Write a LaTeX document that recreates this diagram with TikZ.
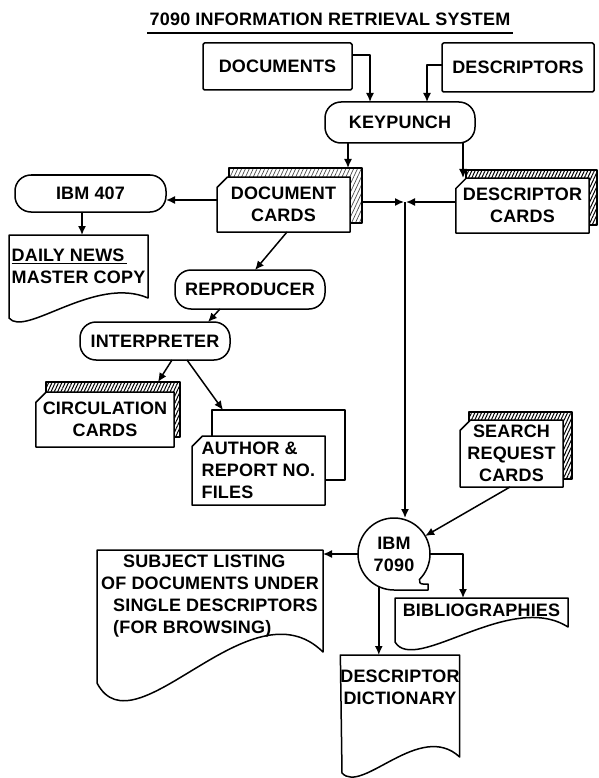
\documentclass[tikz,border=0pt]{standalone}
\usepackage{fontspec}
\setmainfont{Liberation Sans}[LetterSpace=1.0]
\usetikzlibrary{arrows.meta,shapes.misc,patterns.meta,calc}
\begin{document}
\begin{tikzpicture}[x=1pt,y=-1pt, line width=1.5pt, line join=round,
  every node/.style={font=\fontsize{18}{22}\selectfont\bfseries, inner sep=0pt, outer sep=0pt},
  arr/.style={-{Latex[length=9pt,width=8pt]}},
  plainbox/.style={draw, rectangle, rounded corners=1.5pt},
  stadium/.style={draw, rectangle, rounded corners=16pt},
  cardback/.style={draw, chamfered rectangle, chamfered rectangle corners=north west, chamfered rectangle xsep=7pt},
  cardfront/.style={draw, fill=white, chamfered rectangle, chamfered rectangle corners=north west, chamfered rectangle xsep=7pt, align=center},
  hatch/.style={pattern={Lines[angle=65,distance=3pt,line width=1pt]}, pattern color=black},
  lighthatch/.style={pattern={Lines[angle=65,distance=3.5pt,line width=0.7pt]}, pattern color=black!70},
  paper/.style={rectangle, align=left}
]
\useasboundingbox (0,0) rectangle (598,778);
\fill[white] (0,0) rectangle (598,778);

% title
\node (title) at (330,19) {7090 INFORMATION RETRIEVAL SYSTEM};
\draw (147,33) -- (513,33);

% top row
\node[plainbox, minimum width=149, minimum height=47] (docs) at (277.5,66.5) {DOCUMENTS};
\node[plainbox, minimum width=152, minimum height=49] (descs) at (518,67.5) {DESCRIPTORS};
\node[stadium, minimum width=150, minimum height=41] (keypunch) at (400,122.5) {KEYPUNCH};

% cards
\node[cardback, lighthatch, minimum width=133, minimum height=55] (dcb) at (295.5,195.5) {};
\node[cardfront, minimum width=133, minimum height=55] (dcf) at (283.5,204.5) {DOCUMENT\\CARDS};
\node[cardback, hatch, minimum width=131, minimum height=55] (descb) at (531.5,197.5) {};
\node[cardfront, minimum width=131, minimum height=55] (descf) at (522.5,205.5) {DESCRIPTOR\\CARDS};

% left branch
\node[stadium, minimum width=151, minimum height=37] (ibm407) at (90.5,193.5) {IBM 407};
\node[paper, minimum width=139, minimum height=63] (daily) at (78.5,266.5) {\underline{DAILY NEWS\,}\\MASTER COPY};
\draw (daily.north west) -- (daily.north east) -- (daily.south east)
  .. controls (95,275) and (25,338) .. (9,318) -- cycle;

\node[stadium, minimum width=150, minimum height=39] (repro) at (250,289.5) {REPRODUCER};
\node[stadium, minimum width=150, minimum height=38] (interp) at (155,341) {INTERPRETER};

\node[cardback, hatch, minimum width=134, minimum height=55] (circb) at (113,409.5) {};
\node[cardfront, minimum width=134, minimum height=55] (circf) at (105,419.5) {CIRCULATION\\CARDS};

\node[cardback, minimum width=133, minimum height=70] (authb) at (278.5,445) {};
\node[cardfront, align=left, minimum width=133, minimum height=69] (authf) at (258.5,470.5) {AUTHOR \&\\REPORT NO.\\FILES\hspace*{62pt}};

\node[cardback, hatch, minimum width=103, minimum height=67] (searchb) at (520.5,445.5) {};
\node[cardfront, minimum width=103, minimum height=67] (searchf) at (511.5,453.5) {SEARCH\\REQUEST\\CARDS};

% IBM 7090
\node[circle, minimum size=72, align=center] (ibm) at (394,554) {IBM\\7090};
\draw (ibm.-45) arc[start angle=45, end angle=-270, radius=36] -- ++(34,0) -- ++(0,-6) -- ++(-5,0)
  .. controls (419.5,584) and (419.5,582) .. (ibm.-45) -- cycle;

% outputs
\node[paper, minimum width=226, minimum height=92] (subj) at (210,596)
  {\hspace*{22pt}SUBJECT LISTING\\OF DOCUMENTS UNDER\\\hspace*{12pt}SINGLE DESCRIPTORS\\\hspace*{12pt}(FOR BROWSING)};
\draw (subj.north west) -- (subj.north east) -- (subj.east |- 0,652)
  .. controls (250,580) and (135,755) .. (97,683) -- cycle;

\node[paper, minimum width=173, minimum height=24, align=center] (biblio) at (481.5,610) {BIBLIOGRAPHIES};
\draw (biblio.north west) -- (biblio.north east) -- (biblio.east |- 0,627)
  .. controls (510,590) and (415,675) .. (395,642) -- cycle;

\node[paper, minimum width=116, minimum height=65, align=center] (dict) at (400,687.5) {DESCRIPTOR\\DICTIONARY};
\draw (dict.north west) -- (dict.north east) -- (dict.east |- 0,757)
  .. controls (420,720) and (362,795) .. (342,773) -- cycle;

% connectors
\coordinate (J) at (405,202);
\draw[arr] (docs.east |- 0,55) -| (keypunch.north -| 370,0);
\draw[arr] (descs.west |- 0,65) -| (keypunch.north -| 427,0);
\draw[arr] (keypunch.south -| 348,0) -- (dcb.north -| 348,0);
\draw[arr] (keypunch.south -| 463,0) -- (descf.north -| 463,0);
\draw[arr] (dcf.west |- 0,200) -- (ibm407.east |- 0,200);
\draw[arr] (dcb.east |- J) -- ([xshift=-1pt]J);
\draw[arr] (descf.west |- J) -- ([xshift=1pt]J);
\draw[arr] (J) -- (ibm.north -| J);
\draw[arr] (ibm407.south -| 82,0) -- (daily.north -| 82,0);
\draw[arr] (dcf.south -| 287,0) -- (repro.north -| 255,0);
\draw[arr] (repro.south -| 220,0) -- (interp.north -| 208,0);
\draw[arr] (interp.south -| 172,0) -- (circb.north -| 158,0);
\draw[arr] (interp.south -| 187,0) -- (authb.north -| 223,0);
\draw[arr] (searchf.south -| 510,0) -- (ibm.30);
\draw[arr] (ibm.west) -- (subj.east |- ibm.west);
\draw[arr] (ibm.east) -| (biblio.north -| 463,0);
\draw[arr] (ibm.-115) -- (dict.north -| ibm.-115);
\end{tikzpicture}
\end{document}
